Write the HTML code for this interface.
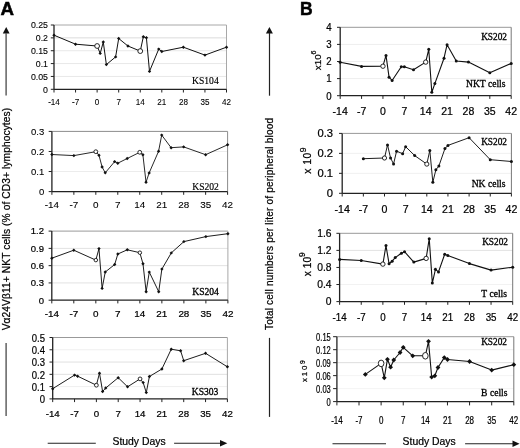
<!DOCTYPE html>
<html><head><meta charset="utf-8"><style>
html,body{margin:0;padding:0;background:#fff;width:520px;height:448px;overflow:hidden}
svg{display:block;filter:grayscale(1)}
.t{stroke:#000;stroke-width:0.22px}
.tl{stroke:#000;stroke-width:0.3px}
.pl{stroke:#000;stroke-width:0.5px}
.ta{stroke:#000;stroke-width:0.1px}
.tla{stroke:#000;stroke-width:0.15px}
</style></head><body>
<svg width="520" height="448" viewBox="0 0 520 448" font-family='"Liberation Sans", sans-serif' fill="#000">
<rect width="520" height="448" fill="#fff"/>
<text class="pl" transform="translate(0.5 14.9) scale(1.05 1)" font-size="17.8" font-weight="bold">A</text>
<text class="pl" x="300" y="14.8" font-size="17.5" font-weight="bold">B</text>
<path d="M6.2 26.9 L9.6 33.6 L2.8 33.6 Z" fill="#111"/>
<line x1="6.1" y1="33" x2="6.1" y2="95.4" stroke="#555" stroke-width="1.4"/>
<line x1="6.1" y1="342.9" x2="6.1" y2="416" stroke="#555" stroke-width="1.4"/>
<text class="t" transform="translate(9.7 330.3) rotate(-90)" font-size="10.2" textLength="222.5" lengthAdjust="spacing">V&#945;24V&#946;11+ NKT cells (% of CD3+ lymphocytes)</text>
<path d="M269.4 26.9 L272.9 33.6 L265.9 33.6 Z" fill="#111"/>
<line x1="269.5" y1="33" x2="269.5" y2="95.7" stroke="#222" stroke-width="1.2"/>
<line x1="269.5" y1="337.9" x2="269.5" y2="416.9" stroke="#222" stroke-width="1.2"/>
<text class="t" transform="translate(272.8 330) rotate(-90)" font-size="10" textLength="212" lengthAdjust="spacing">Total cell numbers per liter of peripheral blood</text>
<text class="t" transform="translate(320.6 70.3) rotate(-90)" font-size="9.9">x10<tspan font-size="7.2" dy="-4.6">6</tspan></text>
<text class="t" transform="translate(311.4 173.8) rotate(-90)" font-size="10.4" letter-spacing="0.5">x 10<tspan font-size="8.6" dy="-5.4">9</tspan></text>
<text class="t" transform="translate(310.6 276.2) rotate(-90)" font-size="10.2" letter-spacing="0">x 10<tspan font-size="8.4" dy="-5.2">9</tspan></text>
<text class="t" transform="translate(306.8 381.9) rotate(-90)" font-size="7.8" letter-spacing="1.8">x10<tspan font-size="6.8" dy="-2.3">9</tspan></text>
<line x1="47.7" y1="443.3" x2="95.8" y2="443.3" stroke="#222" stroke-width="1.1"/>
<text class="t" x="112.5" y="444.5" font-size="10.4">Study Days</text>
<line x1="174.1" y1="443.3" x2="221" y2="443.3" stroke="#222" stroke-width="1.1"/>
<path d="M227.3 443.2 L220 439.9 L220 446.6 Z" fill="#111"/>
<line x1="332.5" y1="443.7" x2="386" y2="443.7" stroke="#222" stroke-width="1.1"/>
<text class="t" x="402.6" y="445.2" font-size="10.4">Study Days</text>
<line x1="465.1" y1="443.7" x2="513" y2="443.7" stroke="#222" stroke-width="1.1"/>
<path d="M519.6 443.7 L512.5 440.4 L512.5 447 Z" fill="#111"/>
<line x1="54" y1="76.44" x2="226.5" y2="76.44" stroke="#e8e8e8" stroke-width="1"/>
<line x1="54" y1="63.58" x2="226.5" y2="63.58" stroke="#e8e8e8" stroke-width="1"/>
<line x1="54" y1="50.72" x2="226.5" y2="50.72" stroke="#e8e8e8" stroke-width="1"/>
<line x1="54" y1="37.86" x2="226.5" y2="37.86" stroke="#dcdcdc" stroke-width="1"/>
<line x1="54" y1="25" x2="226.5" y2="25" stroke="#a8a8a8" stroke-width="1"/>
<line x1="226.5" y1="25" x2="226.5" y2="89.3" stroke="#a8a8a8" stroke-width="1"/>
<line x1="54" y1="25" x2="54" y2="89.3" stroke="#222" stroke-width="1.3"/>
<line x1="54" y1="89.3" x2="226.5" y2="89.3" stroke="#222" stroke-width="1.3"/>
<line x1="50.8" y1="89.3" x2="54" y2="89.3" stroke="#222" stroke-width="1"/>
<text class="ta" x="48" y="92.5" font-size="8.8" text-anchor="end">0</text>
<line x1="50.8" y1="76.44" x2="54" y2="76.44" stroke="#222" stroke-width="1"/>
<text class="ta" x="48" y="79.64" font-size="8.8" text-anchor="end">0.05</text>
<line x1="50.8" y1="63.58" x2="54" y2="63.58" stroke="#222" stroke-width="1"/>
<text class="ta" x="48" y="66.78" font-size="8.8" text-anchor="end">0.1</text>
<line x1="50.8" y1="50.72" x2="54" y2="50.72" stroke="#222" stroke-width="1"/>
<text class="ta" x="48" y="53.92" font-size="8.8" text-anchor="end">0.15</text>
<line x1="50.8" y1="37.86" x2="54" y2="37.86" stroke="#222" stroke-width="1"/>
<text class="ta" x="48" y="41.06" font-size="8.8" text-anchor="end">0.2</text>
<line x1="50.8" y1="25" x2="54" y2="25" stroke="#222" stroke-width="1"/>
<text class="ta" x="48" y="28.2" font-size="8.8" text-anchor="end">0.25</text>
<line x1="54" y1="89.3" x2="54" y2="92.5" stroke="#222" stroke-width="1"/>
<text class="ta" transform="translate(54 105.4) scale(0.87 1)" font-size="9.3" text-anchor="middle">-14</text>
<line x1="75.56" y1="89.3" x2="75.56" y2="92.5" stroke="#222" stroke-width="1"/>
<text class="ta" transform="translate(75.56 105.4) scale(0.87 1)" font-size="9.3" text-anchor="middle">-7</text>
<line x1="97.12" y1="89.3" x2="97.12" y2="92.5" stroke="#222" stroke-width="1"/>
<text class="ta" transform="translate(97.12 105.4) scale(0.87 1)" font-size="9.3" text-anchor="middle">0</text>
<line x1="118.69" y1="89.3" x2="118.69" y2="92.5" stroke="#222" stroke-width="1"/>
<text class="ta" transform="translate(118.69 105.4) scale(0.87 1)" font-size="9.3" text-anchor="middle">7</text>
<line x1="140.25" y1="89.3" x2="140.25" y2="92.5" stroke="#222" stroke-width="1"/>
<text class="ta" transform="translate(140.25 105.4) scale(0.87 1)" font-size="9.3" text-anchor="middle">14</text>
<line x1="161.81" y1="89.3" x2="161.81" y2="92.5" stroke="#222" stroke-width="1"/>
<text class="ta" transform="translate(161.81 105.4) scale(0.87 1)" font-size="9.3" text-anchor="middle">21</text>
<line x1="183.38" y1="89.3" x2="183.38" y2="92.5" stroke="#222" stroke-width="1"/>
<text class="ta" transform="translate(183.38 105.4) scale(0.87 1)" font-size="9.3" text-anchor="middle">28</text>
<line x1="204.94" y1="89.3" x2="204.94" y2="92.5" stroke="#222" stroke-width="1"/>
<text class="ta" transform="translate(204.94 105.4) scale(0.87 1)" font-size="9.3" text-anchor="middle">35</text>
<line x1="226.5" y1="89.3" x2="226.5" y2="92.5" stroke="#222" stroke-width="1"/>
<text class="ta" transform="translate(226.5 105.4) scale(0.87 1)" font-size="9.3" text-anchor="middle">42</text>
<polyline fill="none" stroke="#111" stroke-width="1.0" stroke-linejoin="round" points="54,35.2 75.56,44.2 97.12,46 100.21,53.4 103.29,42 106.37,64.6 115.61,56.9 118.69,38.5 127.93,46 140.25,51.1 143.33,36.8 146.41,37.8 149.49,71.4 158.73,49.1 161.81,51.5 183.38,47.2 204.94,55.1 226.5,47.2"/>
<path d="M54 33.5l1.7 1.7l-1.7 1.7l-1.7 -1.7z" fill="#111"/>
<path d="M75.56 42.5l1.7 1.7l-1.7 1.7l-1.7 -1.7z" fill="#111"/>
<ellipse cx="97.12" cy="46" rx="2.4" ry="2.4" fill="#fff" stroke="#111" stroke-width="0.9"/>
<path d="M100.21 51.7l1.7 1.7l-1.7 1.7l-1.7 -1.7z" fill="#111"/>
<path d="M103.29 40.3l1.7 1.7l-1.7 1.7l-1.7 -1.7z" fill="#111"/>
<path d="M106.37 62.9l1.7 1.7l-1.7 1.7l-1.7 -1.7z" fill="#111"/>
<path d="M115.61 55.2l1.7 1.7l-1.7 1.7l-1.7 -1.7z" fill="#111"/>
<path d="M118.69 36.8l1.7 1.7l-1.7 1.7l-1.7 -1.7z" fill="#111"/>
<path d="M127.93 44.3l1.7 1.7l-1.7 1.7l-1.7 -1.7z" fill="#111"/>
<ellipse cx="140.25" cy="51.1" rx="2.4" ry="2.4" fill="#fff" stroke="#111" stroke-width="0.9"/>
<path d="M143.33 35.1l1.7 1.7l-1.7 1.7l-1.7 -1.7z" fill="#111"/>
<path d="M146.41 36.1l1.7 1.7l-1.7 1.7l-1.7 -1.7z" fill="#111"/>
<path d="M149.49 69.7l1.7 1.7l-1.7 1.7l-1.7 -1.7z" fill="#111"/>
<path d="M158.73 47.4l1.7 1.7l-1.7 1.7l-1.7 -1.7z" fill="#111"/>
<path d="M161.81 49.8l1.7 1.7l-1.7 1.7l-1.7 -1.7z" fill="#111"/>
<path d="M183.38 45.5l1.7 1.7l-1.7 1.7l-1.7 -1.7z" fill="#111"/>
<path d="M204.94 53.4l1.7 1.7l-1.7 1.7l-1.7 -1.7z" fill="#111"/>
<path d="M226.5 45.5l1.7 1.7l-1.7 1.7l-1.7 -1.7z" fill="#111"/>
<text class="tla" x="218.7" y="84.4" font-size="9.6" text-anchor="end" font-family='"Liberation Serif", serif'>KS104</text>
<line x1="51.9" y1="171.53" x2="227.6" y2="171.53" stroke="#ececec" stroke-width="1"/>
<line x1="51.9" y1="151.47" x2="227.6" y2="151.47" stroke="#ececec" stroke-width="1"/>
<line x1="51.9" y1="131.4" x2="227.6" y2="131.4" stroke="#8c8c8c" stroke-width="1"/>
<line x1="227.6" y1="131.4" x2="227.6" y2="191.6" stroke="#8c8c8c" stroke-width="1"/>
<line x1="51.9" y1="131.4" x2="51.9" y2="191.6" stroke="#222" stroke-width="1.3"/>
<line x1="51.9" y1="191.6" x2="227.6" y2="191.6" stroke="#222" stroke-width="1.3"/>
<line x1="48.7" y1="191.6" x2="51.9" y2="191.6" stroke="#222" stroke-width="1"/>
<text class="ta" x="44.2" y="194.8" font-size="9.5" text-anchor="end">0</text>
<line x1="48.7" y1="171.53" x2="51.9" y2="171.53" stroke="#222" stroke-width="1"/>
<text class="ta" x="44.2" y="174.73" font-size="9.5" text-anchor="end">0.1</text>
<line x1="48.7" y1="151.47" x2="51.9" y2="151.47" stroke="#222" stroke-width="1"/>
<text class="ta" x="44.2" y="154.67" font-size="9.5" text-anchor="end">0.2</text>
<line x1="48.7" y1="131.4" x2="51.9" y2="131.4" stroke="#222" stroke-width="1"/>
<text class="ta" x="44.2" y="134.6" font-size="9.5" text-anchor="end">0.3</text>
<line x1="51.9" y1="191.6" x2="51.9" y2="194.8" stroke="#222" stroke-width="1"/>
<text class="ta" x="51.9" y="208.3" font-size="9.9" text-anchor="middle">-14</text>
<line x1="73.86" y1="191.6" x2="73.86" y2="194.8" stroke="#222" stroke-width="1"/>
<text class="ta" x="73.86" y="208.3" font-size="9.9" text-anchor="middle">-7</text>
<line x1="95.82" y1="191.6" x2="95.82" y2="194.8" stroke="#222" stroke-width="1"/>
<text class="ta" x="95.82" y="208.3" font-size="9.9" text-anchor="middle">0</text>
<line x1="117.79" y1="191.6" x2="117.79" y2="194.8" stroke="#222" stroke-width="1"/>
<text class="ta" x="117.79" y="208.3" font-size="9.9" text-anchor="middle">7</text>
<line x1="139.75" y1="191.6" x2="139.75" y2="194.8" stroke="#222" stroke-width="1"/>
<text class="ta" x="139.75" y="208.3" font-size="9.9" text-anchor="middle">14</text>
<line x1="161.71" y1="191.6" x2="161.71" y2="194.8" stroke="#222" stroke-width="1"/>
<text class="ta" x="161.71" y="208.3" font-size="9.9" text-anchor="middle">21</text>
<line x1="183.68" y1="191.6" x2="183.68" y2="194.8" stroke="#222" stroke-width="1"/>
<text class="ta" x="183.68" y="208.3" font-size="9.9" text-anchor="middle">28</text>
<line x1="205.64" y1="191.6" x2="205.64" y2="194.8" stroke="#222" stroke-width="1"/>
<text class="ta" x="205.64" y="208.3" font-size="9.9" text-anchor="middle">35</text>
<line x1="227.6" y1="191.6" x2="227.6" y2="194.8" stroke="#222" stroke-width="1"/>
<text class="ta" x="227.6" y="208.3" font-size="9.9" text-anchor="middle">42</text>
<polyline fill="none" stroke="#111" stroke-width="0.9" stroke-linejoin="round" points="51.9,154.5 73.86,155.6 95.82,151.7 98.96,155.2 102.1,167 105.24,172.8 114.65,161.6 117.79,163.2 127.2,158.5 139.75,152.3 142.89,154.7 146.03,182.2 149.16,172.9 158.57,151.3 161.71,135.1 171.12,147.7 183.68,146.9 205.64,154.7 227.6,144.8"/>
<path d="M51.9 152.8l1.7 1.7l-1.7 1.7l-1.7 -1.7z" fill="#111"/>
<path d="M73.86 153.9l1.7 1.7l-1.7 1.7l-1.7 -1.7z" fill="#111"/>
<ellipse cx="95.82" cy="151.7" rx="1.9" ry="1.9" fill="#fff" stroke="#111" stroke-width="0.9"/>
<path d="M98.96 153.5l1.7 1.7l-1.7 1.7l-1.7 -1.7z" fill="#111"/>
<path d="M102.1 165.3l1.7 1.7l-1.7 1.7l-1.7 -1.7z" fill="#111"/>
<path d="M105.24 171.1l1.7 1.7l-1.7 1.7l-1.7 -1.7z" fill="#111"/>
<path d="M114.65 159.9l1.7 1.7l-1.7 1.7l-1.7 -1.7z" fill="#111"/>
<path d="M117.79 161.5l1.7 1.7l-1.7 1.7l-1.7 -1.7z" fill="#111"/>
<path d="M127.2 156.8l1.7 1.7l-1.7 1.7l-1.7 -1.7z" fill="#111"/>
<ellipse cx="139.75" cy="152.3" rx="1.9" ry="1.9" fill="#fff" stroke="#111" stroke-width="0.9"/>
<path d="M142.89 153l1.7 1.7l-1.7 1.7l-1.7 -1.7z" fill="#111"/>
<path d="M146.03 180.5l1.7 1.7l-1.7 1.7l-1.7 -1.7z" fill="#111"/>
<path d="M149.16 171.2l1.7 1.7l-1.7 1.7l-1.7 -1.7z" fill="#111"/>
<path d="M158.57 149.6l1.7 1.7l-1.7 1.7l-1.7 -1.7z" fill="#111"/>
<path d="M161.71 133.4l1.7 1.7l-1.7 1.7l-1.7 -1.7z" fill="#111"/>
<path d="M171.12 146l1.7 1.7l-1.7 1.7l-1.7 -1.7z" fill="#111"/>
<path d="M183.68 145.2l1.7 1.7l-1.7 1.7l-1.7 -1.7z" fill="#111"/>
<path d="M205.64 153l1.7 1.7l-1.7 1.7l-1.7 -1.7z" fill="#111"/>
<path d="M227.6 143.1l1.7 1.7l-1.7 1.7l-1.7 -1.7z" fill="#111"/>
<text class="tla" x="218.9" y="189.7" font-size="9.6" text-anchor="end" font-family='"Liberation Serif", serif'>KS202</text>
<line x1="51.8" y1="282.93" x2="227.9" y2="282.93" stroke="#e2e2e2" stroke-width="1"/>
<line x1="51.8" y1="265.65" x2="227.9" y2="265.65" stroke="#e2e2e2" stroke-width="1"/>
<line x1="51.8" y1="248.38" x2="227.9" y2="248.38" stroke="#e2e2e2" stroke-width="1"/>
<line x1="51.8" y1="231.1" x2="227.9" y2="231.1" stroke="#999" stroke-width="1"/>
<line x1="227.9" y1="231.1" x2="227.9" y2="300.2" stroke="#a8a8a8" stroke-width="1"/>
<line x1="51.8" y1="231.1" x2="51.8" y2="300.2" stroke="#222" stroke-width="1.3"/>
<line x1="51.8" y1="300.2" x2="227.9" y2="300.2" stroke="#222" stroke-width="1.3"/>
<line x1="48.6" y1="300.2" x2="51.8" y2="300.2" stroke="#222" stroke-width="1"/>
<text class="t" x="44" y="303.5" font-size="9.5" text-anchor="end">0</text>
<line x1="48.6" y1="282.93" x2="51.8" y2="282.93" stroke="#222" stroke-width="1"/>
<text class="t" x="44" y="286.23" font-size="9.5" text-anchor="end">0.3</text>
<line x1="48.6" y1="265.65" x2="51.8" y2="265.65" stroke="#222" stroke-width="1"/>
<text class="t" x="44" y="268.95" font-size="9.5" text-anchor="end">0.6</text>
<line x1="48.6" y1="248.38" x2="51.8" y2="248.38" stroke="#222" stroke-width="1"/>
<text class="t" x="44" y="251.68" font-size="9.5" text-anchor="end">0.9</text>
<line x1="48.6" y1="231.1" x2="51.8" y2="231.1" stroke="#222" stroke-width="1"/>
<text class="t" x="44" y="234.4" font-size="9.5" text-anchor="end">1.2</text>
<line x1="51.8" y1="300.2" x2="51.8" y2="303.4" stroke="#222" stroke-width="1"/>
<text class="t" x="51.8" y="317.2" font-size="9.9" text-anchor="middle">-14</text>
<line x1="73.81" y1="300.2" x2="73.81" y2="303.4" stroke="#222" stroke-width="1"/>
<text class="t" x="73.81" y="317.2" font-size="9.9" text-anchor="middle">-7</text>
<line x1="95.83" y1="300.2" x2="95.83" y2="303.4" stroke="#222" stroke-width="1"/>
<text class="t" x="95.83" y="317.2" font-size="9.9" text-anchor="middle">0</text>
<line x1="117.84" y1="300.2" x2="117.84" y2="303.4" stroke="#222" stroke-width="1"/>
<text class="t" x="117.84" y="317.2" font-size="9.9" text-anchor="middle">7</text>
<line x1="139.85" y1="300.2" x2="139.85" y2="303.4" stroke="#222" stroke-width="1"/>
<text class="t" x="139.85" y="317.2" font-size="9.9" text-anchor="middle">14</text>
<line x1="161.86" y1="300.2" x2="161.86" y2="303.4" stroke="#222" stroke-width="1"/>
<text class="t" x="161.86" y="317.2" font-size="9.9" text-anchor="middle">21</text>
<line x1="183.88" y1="300.2" x2="183.88" y2="303.4" stroke="#222" stroke-width="1"/>
<text class="t" x="183.88" y="317.2" font-size="9.9" text-anchor="middle">28</text>
<line x1="205.89" y1="300.2" x2="205.89" y2="303.4" stroke="#222" stroke-width="1"/>
<text class="t" x="205.89" y="317.2" font-size="9.9" text-anchor="middle">35</text>
<line x1="227.9" y1="300.2" x2="227.9" y2="303.4" stroke="#222" stroke-width="1"/>
<text class="t" x="227.9" y="317.2" font-size="9.9" text-anchor="middle">42</text>
<polyline fill="none" stroke="#111" stroke-width="0.95" stroke-linejoin="round" points="51.8,258.2 73.81,250.2 95.83,260.1 98.97,248.6 102.11,288.4 105.26,272 114.69,264.5 117.84,254 127.27,249.8 139.85,252.7 142.99,263.8 146.14,291.7 149.28,272.1 158.72,291.7 161.86,269.1 171.3,252.9 183.88,241.6 205.89,236.6 227.9,233.7"/>
<path d="M51.8 256.5l1.7 1.7l-1.7 1.7l-1.7 -1.7z" fill="#111"/>
<path d="M73.81 248.5l1.7 1.7l-1.7 1.7l-1.7 -1.7z" fill="#111"/>
<ellipse cx="95.83" cy="260.1" rx="1.75" ry="1.75" fill="#fff" stroke="#111" stroke-width="0.9"/>
<path d="M98.97 246.9l1.7 1.7l-1.7 1.7l-1.7 -1.7z" fill="#111"/>
<path d="M102.11 286.7l1.7 1.7l-1.7 1.7l-1.7 -1.7z" fill="#111"/>
<path d="M105.26 270.3l1.7 1.7l-1.7 1.7l-1.7 -1.7z" fill="#111"/>
<path d="M114.69 262.8l1.7 1.7l-1.7 1.7l-1.7 -1.7z" fill="#111"/>
<path d="M117.84 252.3l1.7 1.7l-1.7 1.7l-1.7 -1.7z" fill="#111"/>
<path d="M127.27 248.1l1.7 1.7l-1.7 1.7l-1.7 -1.7z" fill="#111"/>
<ellipse cx="139.85" cy="252.7" rx="1.75" ry="1.75" fill="#fff" stroke="#111" stroke-width="0.9"/>
<path d="M142.99 262.1l1.7 1.7l-1.7 1.7l-1.7 -1.7z" fill="#111"/>
<path d="M146.14 290l1.7 1.7l-1.7 1.7l-1.7 -1.7z" fill="#111"/>
<path d="M149.28 270.4l1.7 1.7l-1.7 1.7l-1.7 -1.7z" fill="#111"/>
<path d="M158.72 290l1.7 1.7l-1.7 1.7l-1.7 -1.7z" fill="#111"/>
<path d="M161.86 267.4l1.7 1.7l-1.7 1.7l-1.7 -1.7z" fill="#111"/>
<path d="M171.3 251.2l1.7 1.7l-1.7 1.7l-1.7 -1.7z" fill="#111"/>
<path d="M183.88 239.9l1.7 1.7l-1.7 1.7l-1.7 -1.7z" fill="#111"/>
<path d="M205.89 234.9l1.7 1.7l-1.7 1.7l-1.7 -1.7z" fill="#111"/>
<path d="M227.9 232l1.7 1.7l-1.7 1.7l-1.7 -1.7z" fill="#111"/>
<text class="tl" x="218.9" y="295.3" font-size="9.6" text-anchor="end" font-family='"Liberation Serif", serif'>KS204</text>
<line x1="52.7" y1="386.62" x2="227.4" y2="386.62" stroke="#efefef" stroke-width="1"/>
<line x1="52.7" y1="374.34" x2="227.4" y2="374.34" stroke="#e0e0e0" stroke-width="1"/>
<line x1="52.7" y1="362.06" x2="227.4" y2="362.06" stroke="#e0e0e0" stroke-width="1"/>
<line x1="52.7" y1="349.78" x2="227.4" y2="349.78" stroke="#efefef" stroke-width="1"/>
<line x1="52.7" y1="337.5" x2="227.4" y2="337.5" stroke="#999" stroke-width="1"/>
<line x1="227.4" y1="337.5" x2="227.4" y2="398.9" stroke="#a8a8a8" stroke-width="1"/>
<line x1="52.7" y1="337.5" x2="52.7" y2="398.9" stroke="#222" stroke-width="1.3"/>
<line x1="52.7" y1="398.9" x2="227.4" y2="398.9" stroke="#222" stroke-width="1.3"/>
<line x1="49.5" y1="398.9" x2="52.7" y2="398.9" stroke="#222" stroke-width="1"/>
<text class="t" transform="translate(45 403.1) scale(0.88 1)" font-size="10.8" text-anchor="end">0</text>
<line x1="49.5" y1="386.62" x2="52.7" y2="386.62" stroke="#222" stroke-width="1"/>
<text class="t" transform="translate(45 390.82) scale(0.88 1)" font-size="10.8" text-anchor="end">0.1</text>
<line x1="49.5" y1="374.34" x2="52.7" y2="374.34" stroke="#222" stroke-width="1"/>
<text class="t" transform="translate(45 378.54) scale(0.88 1)" font-size="10.8" text-anchor="end">0.2</text>
<line x1="49.5" y1="362.06" x2="52.7" y2="362.06" stroke="#222" stroke-width="1"/>
<text class="t" transform="translate(45 366.26) scale(0.88 1)" font-size="10.8" text-anchor="end">0.3</text>
<line x1="49.5" y1="349.78" x2="52.7" y2="349.78" stroke="#222" stroke-width="1"/>
<text class="t" transform="translate(45 353.98) scale(0.88 1)" font-size="10.8" text-anchor="end">0.4</text>
<line x1="49.5" y1="337.5" x2="52.7" y2="337.5" stroke="#222" stroke-width="1"/>
<text class="t" transform="translate(45 341.7) scale(0.88 1)" font-size="10.8" text-anchor="end">0.5</text>
<line x1="52.7" y1="398.9" x2="52.7" y2="402.1" stroke="#222" stroke-width="1"/>
<text class="t" x="52.7" y="417.2" font-size="9.7" text-anchor="middle">-14</text>
<line x1="74.54" y1="398.9" x2="74.54" y2="402.1" stroke="#222" stroke-width="1"/>
<text class="t" x="74.54" y="417.2" font-size="9.7" text-anchor="middle">-7</text>
<line x1="96.38" y1="398.9" x2="96.38" y2="402.1" stroke="#222" stroke-width="1"/>
<text class="t" x="96.38" y="417.2" font-size="9.7" text-anchor="middle">0</text>
<line x1="118.21" y1="398.9" x2="118.21" y2="402.1" stroke="#222" stroke-width="1"/>
<text class="t" x="118.21" y="417.2" font-size="9.7" text-anchor="middle">7</text>
<line x1="140.05" y1="398.9" x2="140.05" y2="402.1" stroke="#222" stroke-width="1"/>
<text class="t" x="140.05" y="417.2" font-size="9.7" text-anchor="middle">14</text>
<line x1="161.89" y1="398.9" x2="161.89" y2="402.1" stroke="#222" stroke-width="1"/>
<text class="t" x="161.89" y="417.2" font-size="9.7" text-anchor="middle">21</text>
<line x1="183.73" y1="398.9" x2="183.73" y2="402.1" stroke="#222" stroke-width="1"/>
<text class="t" x="183.73" y="417.2" font-size="9.7" text-anchor="middle">28</text>
<line x1="205.56" y1="398.9" x2="205.56" y2="402.1" stroke="#222" stroke-width="1"/>
<text class="t" x="205.56" y="417.2" font-size="9.7" text-anchor="middle">35</text>
<line x1="227.4" y1="398.9" x2="227.4" y2="402.1" stroke="#222" stroke-width="1"/>
<text class="t" x="227.4" y="417.2" font-size="9.7" text-anchor="middle">42</text>
<polyline fill="none" stroke="#111" stroke-width="0.95" stroke-linejoin="round" points="52.7,388.7 74.54,375.1 77.66,376.2 96.38,385.2 99.49,373.2 102.61,391.5 105.73,388 118.21,377.7 127.57,386.8 140.05,378.9 143.17,382.6 146.29,392.6 149.41,376.5 161.89,369 171.25,349.2 180.61,350.8 183.73,360.7 205.56,353.3 227.4,366.8"/>
<path d="M52.7 387l1.7 1.7l-1.7 1.7l-1.7 -1.7z" fill="#111"/>
<path d="M74.54 373.4l1.7 1.7l-1.7 1.7l-1.7 -1.7z" fill="#111"/>
<path d="M77.66 374.5l1.7 1.7l-1.7 1.7l-1.7 -1.7z" fill="#111"/>
<ellipse cx="96.38" cy="385.2" rx="1.9" ry="1.9" fill="#fff" stroke="#111" stroke-width="0.9"/>
<path d="M99.49 371.5l1.7 1.7l-1.7 1.7l-1.7 -1.7z" fill="#111"/>
<path d="M102.61 389.8l1.7 1.7l-1.7 1.7l-1.7 -1.7z" fill="#111"/>
<path d="M105.73 386.3l1.7 1.7l-1.7 1.7l-1.7 -1.7z" fill="#111"/>
<path d="M118.21 376l1.7 1.7l-1.7 1.7l-1.7 -1.7z" fill="#111"/>
<path d="M127.57 385.1l1.7 1.7l-1.7 1.7l-1.7 -1.7z" fill="#111"/>
<ellipse cx="140.05" cy="378.9" rx="1.9" ry="1.9" fill="#fff" stroke="#111" stroke-width="0.9"/>
<path d="M143.17 380.9l1.7 1.7l-1.7 1.7l-1.7 -1.7z" fill="#111"/>
<path d="M146.29 390.9l1.7 1.7l-1.7 1.7l-1.7 -1.7z" fill="#111"/>
<path d="M149.41 374.8l1.7 1.7l-1.7 1.7l-1.7 -1.7z" fill="#111"/>
<path d="M161.89 367.3l1.7 1.7l-1.7 1.7l-1.7 -1.7z" fill="#111"/>
<path d="M171.25 347.5l1.7 1.7l-1.7 1.7l-1.7 -1.7z" fill="#111"/>
<path d="M180.61 349.1l1.7 1.7l-1.7 1.7l-1.7 -1.7z" fill="#111"/>
<path d="M183.73 359l1.7 1.7l-1.7 1.7l-1.7 -1.7z" fill="#111"/>
<path d="M205.56 351.6l1.7 1.7l-1.7 1.7l-1.7 -1.7z" fill="#111"/>
<path d="M227.4 365.1l1.7 1.7l-1.7 1.7l-1.7 -1.7z" fill="#111"/>
<text class="tl" x="218.4" y="395.3" font-size="9.6" text-anchor="end" font-family='"Liberation Serif", serif'>KS303</text>
<line x1="340.2" y1="78.6" x2="511.2" y2="78.6" stroke="#eeeeee" stroke-width="1"/>
<line x1="340.2" y1="61.5" x2="511.2" y2="61.5" stroke="#eeeeee" stroke-width="1"/>
<line x1="340.2" y1="44.4" x2="511.2" y2="44.4" stroke="#eeeeee" stroke-width="1"/>
<line x1="340.2" y1="27.3" x2="511.2" y2="27.3" stroke="#999" stroke-width="1"/>
<line x1="511.2" y1="27.3" x2="511.2" y2="95.7" stroke="#777" stroke-width="1"/>
<line x1="340.2" y1="27.3" x2="340.2" y2="95.7" stroke="#222" stroke-width="1.3"/>
<line x1="340.2" y1="95.7" x2="511.2" y2="95.7" stroke="#222" stroke-width="1.3"/>
<line x1="337" y1="95.7" x2="340.2" y2="95.7" stroke="#222" stroke-width="1"/>
<text class="t" transform="translate(331.6 99.5) scale(0.92 1)" font-size="10.5" text-anchor="end">0</text>
<line x1="337" y1="78.6" x2="340.2" y2="78.6" stroke="#222" stroke-width="1"/>
<text class="t" transform="translate(331.6 82.4) scale(0.92 1)" font-size="10.5" text-anchor="end">1</text>
<line x1="337" y1="61.5" x2="340.2" y2="61.5" stroke="#222" stroke-width="1"/>
<text class="t" transform="translate(331.6 65.3) scale(0.92 1)" font-size="10.5" text-anchor="end">2</text>
<line x1="337" y1="44.4" x2="340.2" y2="44.4" stroke="#222" stroke-width="1"/>
<text class="t" transform="translate(331.6 48.2) scale(0.92 1)" font-size="10.5" text-anchor="end">3</text>
<line x1="337" y1="27.3" x2="340.2" y2="27.3" stroke="#222" stroke-width="1"/>
<text class="t" transform="translate(331.6 31.1) scale(0.92 1)" font-size="10.5" text-anchor="end">4</text>
<line x1="340.2" y1="95.7" x2="340.2" y2="98.9" stroke="#222" stroke-width="1"/>
<text class="t" x="340.2" y="115.3" font-size="10.5" text-anchor="middle">-14</text>
<line x1="361.57" y1="95.7" x2="361.57" y2="98.9" stroke="#222" stroke-width="1"/>
<text class="t" x="361.57" y="115.3" font-size="10.5" text-anchor="middle">-7</text>
<line x1="382.95" y1="95.7" x2="382.95" y2="98.9" stroke="#222" stroke-width="1"/>
<text class="t" x="382.95" y="115.3" font-size="10.5" text-anchor="middle">0</text>
<line x1="404.32" y1="95.7" x2="404.32" y2="98.9" stroke="#222" stroke-width="1"/>
<text class="t" x="404.32" y="115.3" font-size="10.5" text-anchor="middle">7</text>
<line x1="425.7" y1="95.7" x2="425.7" y2="98.9" stroke="#222" stroke-width="1"/>
<text class="t" x="425.7" y="115.3" font-size="10.5" text-anchor="middle">14</text>
<line x1="447.07" y1="95.7" x2="447.07" y2="98.9" stroke="#222" stroke-width="1"/>
<text class="t" x="447.07" y="115.3" font-size="10.5" text-anchor="middle">21</text>
<line x1="468.45" y1="95.7" x2="468.45" y2="98.9" stroke="#222" stroke-width="1"/>
<text class="t" x="468.45" y="115.3" font-size="10.5" text-anchor="middle">28</text>
<line x1="489.82" y1="95.7" x2="489.82" y2="98.9" stroke="#222" stroke-width="1"/>
<text class="t" x="489.82" y="115.3" font-size="10.5" text-anchor="middle">35</text>
<line x1="511.2" y1="95.7" x2="511.2" y2="98.9" stroke="#222" stroke-width="1"/>
<text class="t" x="511.2" y="115.3" font-size="10.5" text-anchor="middle">42</text>
<polyline fill="none" stroke="#111" stroke-width="1.1" stroke-linejoin="round" points="340.2,62.2 361.57,66.4 382.95,66.2 386,55.4 389.06,77.2 392.11,80.5 401.27,66.7 404.32,66.7 413.49,69.8 425.7,62.1 428.75,49.3 431.81,92.2 434.86,83.6 444.02,58.2 447.07,44.7 456.24,61 468.45,62.1 489.82,72.7 511.2,63.4"/>
<circle cx="340.2" cy="62.2" r="1.5" fill="#111"/>
<circle cx="361.57" cy="66.4" r="1.5" fill="#111"/>
<ellipse cx="382.95" cy="66.2" rx="2.2" ry="2.2" fill="#fff" stroke="#111" stroke-width="0.9"/>
<circle cx="386" cy="55.4" r="1.5" fill="#111"/>
<circle cx="389.06" cy="77.2" r="1.5" fill="#111"/>
<circle cx="392.11" cy="80.5" r="1.5" fill="#111"/>
<circle cx="401.27" cy="66.7" r="1.5" fill="#111"/>
<circle cx="404.32" cy="66.7" r="1.5" fill="#111"/>
<circle cx="413.49" cy="69.8" r="1.5" fill="#111"/>
<ellipse cx="425.7" cy="62.1" rx="2.2" ry="2.2" fill="#fff" stroke="#111" stroke-width="0.9"/>
<circle cx="428.75" cy="49.3" r="1.5" fill="#111"/>
<circle cx="431.81" cy="92.2" r="1.5" fill="#111"/>
<circle cx="434.86" cy="83.6" r="1.5" fill="#111"/>
<circle cx="444.02" cy="58.2" r="1.5" fill="#111"/>
<circle cx="447.07" cy="44.7" r="1.5" fill="#111"/>
<circle cx="456.24" cy="61" r="1.5" fill="#111"/>
<circle cx="468.45" cy="62.1" r="1.5" fill="#111"/>
<circle cx="489.82" cy="72.7" r="1.5" fill="#111"/>
<circle cx="511.2" cy="63.4" r="1.5" fill="#111"/>
<text class="tl" x="507" y="40" font-size="9.3" text-anchor="end" font-family='"Liberation Serif", serif'>KS202</text>
<text class="tl" x="505.5" y="87" font-size="9.6" text-anchor="end" font-family='"Liberation Serif", serif'>NKT cells</text>
<line x1="342.2" y1="173.33" x2="511.4" y2="173.33" stroke="#f0f0f0" stroke-width="1"/>
<line x1="342.2" y1="153.37" x2="511.4" y2="153.37" stroke="#f0f0f0" stroke-width="1"/>
<line x1="342.2" y1="133.4" x2="511.4" y2="133.4" stroke="#999" stroke-width="1"/>
<line x1="511.4" y1="133.4" x2="511.4" y2="193.3" stroke="#777" stroke-width="1"/>
<line x1="342.2" y1="133.4" x2="342.2" y2="193.3" stroke="#222" stroke-width="1.3"/>
<line x1="342.2" y1="193.3" x2="511.4" y2="193.3" stroke="#222" stroke-width="1.3"/>
<line x1="339" y1="193.3" x2="342.2" y2="193.3" stroke="#222" stroke-width="1"/>
<text class="t" x="333.1" y="197.2" font-size="11.2" text-anchor="end">0</text>
<line x1="339" y1="173.33" x2="342.2" y2="173.33" stroke="#222" stroke-width="1"/>
<text class="t" x="333.1" y="177.23" font-size="11.2" text-anchor="end">0.1</text>
<line x1="339" y1="153.37" x2="342.2" y2="153.37" stroke="#222" stroke-width="1"/>
<text class="t" x="333.1" y="157.27" font-size="11.2" text-anchor="end">0.2</text>
<line x1="339" y1="133.4" x2="342.2" y2="133.4" stroke="#222" stroke-width="1"/>
<text class="t" x="333.1" y="137.3" font-size="11.2" text-anchor="end">0.3</text>
<line x1="342.2" y1="193.3" x2="342.2" y2="196.5" stroke="#222" stroke-width="1"/>
<text class="t" x="342.2" y="213.4" font-size="10.6" text-anchor="middle">-14</text>
<line x1="363.35" y1="193.3" x2="363.35" y2="196.5" stroke="#222" stroke-width="1"/>
<text class="t" x="363.35" y="213.4" font-size="10.6" text-anchor="middle">-7</text>
<line x1="384.5" y1="193.3" x2="384.5" y2="196.5" stroke="#222" stroke-width="1"/>
<text class="t" x="384.5" y="213.4" font-size="10.6" text-anchor="middle">0</text>
<line x1="405.65" y1="193.3" x2="405.65" y2="196.5" stroke="#222" stroke-width="1"/>
<text class="t" x="405.65" y="213.4" font-size="10.6" text-anchor="middle">7</text>
<line x1="426.8" y1="193.3" x2="426.8" y2="196.5" stroke="#222" stroke-width="1"/>
<text class="t" x="426.8" y="213.4" font-size="10.6" text-anchor="middle">14</text>
<line x1="447.95" y1="193.3" x2="447.95" y2="196.5" stroke="#222" stroke-width="1"/>
<text class="t" x="447.95" y="213.4" font-size="10.6" text-anchor="middle">21</text>
<line x1="469.1" y1="193.3" x2="469.1" y2="196.5" stroke="#222" stroke-width="1"/>
<text class="t" x="469.1" y="213.4" font-size="10.6" text-anchor="middle">28</text>
<line x1="490.25" y1="193.3" x2="490.25" y2="196.5" stroke="#222" stroke-width="1"/>
<text class="t" x="490.25" y="213.4" font-size="10.6" text-anchor="middle">35</text>
<line x1="511.4" y1="193.3" x2="511.4" y2="196.5" stroke="#222" stroke-width="1"/>
<text class="t" x="511.4" y="213.4" font-size="10.6" text-anchor="middle">42</text>
<polyline fill="none" stroke="#111" stroke-width="0.95" stroke-linejoin="round" points="363.35,158.7 384.5,158 387.52,144.9 390.54,157.9 393.56,164 396.59,151.2 402.63,153.7 405.65,146.7 414.71,155.6 426.8,164.1 429.82,150.4 432.84,182.3 435.86,169.8 438.89,166 444.93,148.6 447.95,145.4 469.1,137.7 490.25,159.7 511.4,161.5"/>
<circle cx="363.35" cy="158.7" r="1.5" fill="#111"/>
<ellipse cx="384.5" cy="158" rx="2.1" ry="2.1" fill="#fff" stroke="#111" stroke-width="0.9"/>
<circle cx="387.52" cy="144.9" r="1.5" fill="#111"/>
<circle cx="390.54" cy="157.9" r="1.5" fill="#111"/>
<circle cx="393.56" cy="164" r="1.5" fill="#111"/>
<circle cx="396.59" cy="151.2" r="1.5" fill="#111"/>
<circle cx="402.63" cy="153.7" r="1.5" fill="#111"/>
<circle cx="405.65" cy="146.7" r="1.5" fill="#111"/>
<circle cx="414.71" cy="155.6" r="1.5" fill="#111"/>
<ellipse cx="426.8" cy="164.1" rx="2.1" ry="2.1" fill="#fff" stroke="#111" stroke-width="0.9"/>
<circle cx="429.82" cy="150.4" r="1.5" fill="#111"/>
<circle cx="432.84" cy="182.3" r="1.5" fill="#111"/>
<circle cx="435.86" cy="169.8" r="1.5" fill="#111"/>
<circle cx="438.89" cy="166" r="1.5" fill="#111"/>
<circle cx="444.93" cy="148.6" r="1.5" fill="#111"/>
<circle cx="447.95" cy="145.4" r="1.5" fill="#111"/>
<circle cx="469.1" cy="137.7" r="1.5" fill="#111"/>
<circle cx="490.25" cy="159.7" r="1.5" fill="#111"/>
<circle cx="511.4" cy="161.5" r="1.5" fill="#111"/>
<text class="tl" x="507" y="144.7" font-size="9.3" text-anchor="end" font-family='"Liberation Serif", serif'>KS202</text>
<text class="tl" x="505.5" y="187" font-size="9.6" text-anchor="end" font-family='"Liberation Serif", serif'>NK cells</text>
<line x1="339.6" y1="284.53" x2="512.7" y2="284.53" stroke="#f2f2f2" stroke-width="1"/>
<line x1="339.6" y1="267.45" x2="512.7" y2="267.45" stroke="#f2f2f2" stroke-width="1"/>
<line x1="339.6" y1="250.38" x2="512.7" y2="250.38" stroke="#e2e2e2" stroke-width="1"/>
<line x1="339.6" y1="233.3" x2="512.7" y2="233.3" stroke="#999" stroke-width="1"/>
<line x1="512.7" y1="233.3" x2="512.7" y2="301.6" stroke="#777" stroke-width="1"/>
<line x1="339.6" y1="233.3" x2="339.6" y2="301.6" stroke="#222" stroke-width="1.3"/>
<line x1="339.6" y1="301.6" x2="512.7" y2="301.6" stroke="#222" stroke-width="1.3"/>
<line x1="336.4" y1="301.6" x2="339.6" y2="301.6" stroke="#222" stroke-width="1"/>
<text class="t" x="331.5" y="305.4" font-size="10.3" text-anchor="end">0</text>
<line x1="336.4" y1="284.53" x2="339.6" y2="284.53" stroke="#222" stroke-width="1"/>
<text class="t" x="331.5" y="288.33" font-size="10.3" text-anchor="end">0.4</text>
<line x1="336.4" y1="267.45" x2="339.6" y2="267.45" stroke="#222" stroke-width="1"/>
<text class="t" x="331.5" y="271.25" font-size="10.3" text-anchor="end">0.8</text>
<line x1="336.4" y1="250.38" x2="339.6" y2="250.38" stroke="#222" stroke-width="1"/>
<text class="t" x="331.5" y="254.18" font-size="10.3" text-anchor="end">1.2</text>
<line x1="336.4" y1="233.3" x2="339.6" y2="233.3" stroke="#222" stroke-width="1"/>
<text class="t" x="331.5" y="237.1" font-size="10.3" text-anchor="end">1.6</text>
<line x1="339.6" y1="301.6" x2="339.6" y2="304.8" stroke="#222" stroke-width="1"/>
<text class="t" transform="translate(339.6 321.2) scale(0.95 1)" font-size="10.3" text-anchor="middle">-14</text>
<line x1="361.24" y1="301.6" x2="361.24" y2="304.8" stroke="#222" stroke-width="1"/>
<text class="t" transform="translate(361.24 321.2) scale(0.95 1)" font-size="10.3" text-anchor="middle">-7</text>
<line x1="382.88" y1="301.6" x2="382.88" y2="304.8" stroke="#222" stroke-width="1"/>
<text class="t" transform="translate(382.88 321.2) scale(0.95 1)" font-size="10.3" text-anchor="middle">0</text>
<line x1="404.51" y1="301.6" x2="404.51" y2="304.8" stroke="#222" stroke-width="1"/>
<text class="t" transform="translate(404.51 321.2) scale(0.95 1)" font-size="10.3" text-anchor="middle">7</text>
<line x1="426.15" y1="301.6" x2="426.15" y2="304.8" stroke="#222" stroke-width="1"/>
<text class="t" transform="translate(426.15 321.2) scale(0.95 1)" font-size="10.3" text-anchor="middle">14</text>
<line x1="447.79" y1="301.6" x2="447.79" y2="304.8" stroke="#222" stroke-width="1"/>
<text class="t" transform="translate(447.79 321.2) scale(0.95 1)" font-size="10.3" text-anchor="middle">21</text>
<line x1="469.43" y1="301.6" x2="469.43" y2="304.8" stroke="#222" stroke-width="1"/>
<text class="t" transform="translate(469.43 321.2) scale(0.95 1)" font-size="10.3" text-anchor="middle">28</text>
<line x1="491.06" y1="301.6" x2="491.06" y2="304.8" stroke="#222" stroke-width="1"/>
<text class="t" transform="translate(491.06 321.2) scale(0.95 1)" font-size="10.3" text-anchor="middle">35</text>
<line x1="512.7" y1="301.6" x2="512.7" y2="304.8" stroke="#222" stroke-width="1"/>
<text class="t" transform="translate(512.7 321.2) scale(0.95 1)" font-size="10.3" text-anchor="middle">42</text>
<polyline fill="none" stroke="#111" stroke-width="1.1" stroke-linejoin="round" points="339.6,259.4 361.24,260.5 382.88,264.1 385.97,245.6 389.06,263.7 392.15,261.2 395.24,257.6 401.42,253.2 404.51,251.7 413.79,262.1 426.15,258.4 429.24,238.7 432.33,283.1 435.42,269.3 438.51,271.9 444.7,254.3 447.79,255.6 469.43,263.6 491.06,270.1 512.7,267.2"/>
<circle cx="339.6" cy="259.4" r="1.5" fill="#111"/>
<circle cx="361.24" cy="260.5" r="1.5" fill="#111"/>
<ellipse cx="382.88" cy="264.1" rx="2.2" ry="2.2" fill="#fff" stroke="#111" stroke-width="0.9"/>
<circle cx="385.97" cy="245.6" r="1.5" fill="#111"/>
<circle cx="389.06" cy="263.7" r="1.5" fill="#111"/>
<circle cx="392.15" cy="261.2" r="1.5" fill="#111"/>
<circle cx="395.24" cy="257.6" r="1.5" fill="#111"/>
<circle cx="401.42" cy="253.2" r="1.5" fill="#111"/>
<circle cx="404.51" cy="251.7" r="1.5" fill="#111"/>
<circle cx="413.79" cy="262.1" r="1.5" fill="#111"/>
<ellipse cx="426.15" cy="258.4" rx="2.2" ry="2.2" fill="#fff" stroke="#111" stroke-width="0.9"/>
<circle cx="429.24" cy="238.7" r="1.5" fill="#111"/>
<circle cx="432.33" cy="283.1" r="1.5" fill="#111"/>
<circle cx="435.42" cy="269.3" r="1.5" fill="#111"/>
<circle cx="438.51" cy="271.9" r="1.5" fill="#111"/>
<circle cx="444.7" cy="254.3" r="1.5" fill="#111"/>
<circle cx="447.79" cy="255.6" r="1.5" fill="#111"/>
<circle cx="469.43" cy="263.6" r="1.5" fill="#111"/>
<circle cx="491.06" cy="270.1" r="1.5" fill="#111"/>
<circle cx="512.7" cy="267.2" r="1.5" fill="#111"/>
<text class="tl" x="508" y="245.2" font-size="9.3" text-anchor="end" font-family='"Liberation Serif", serif'>KS202</text>
<text class="tl" x="507" y="297.4" font-size="9.6" text-anchor="end" font-family='"Liberation Serif", serif'>T cells</text>
<line x1="336.9" y1="388.62" x2="513.8" y2="388.62" stroke="#f4f4f4" stroke-width="1"/>
<line x1="336.9" y1="375.64" x2="513.8" y2="375.64" stroke="#f4f4f4" stroke-width="1"/>
<line x1="336.9" y1="362.66" x2="513.8" y2="362.66" stroke="#dddddd" stroke-width="1"/>
<line x1="336.9" y1="349.68" x2="513.8" y2="349.68" stroke="#eeeeee" stroke-width="1"/>
<line x1="336.9" y1="336.7" x2="513.8" y2="336.7" stroke="#999" stroke-width="1"/>
<line x1="513.8" y1="336.7" x2="513.8" y2="401.6" stroke="#777" stroke-width="1"/>
<line x1="336.9" y1="336.7" x2="336.9" y2="401.6" stroke="#222" stroke-width="1.3"/>
<line x1="336.9" y1="401.6" x2="513.8" y2="401.6" stroke="#222" stroke-width="1.3"/>
<line x1="333.1" y1="401.6" x2="336.9" y2="401.6" stroke="#222" stroke-width="1"/>
<text class="t" transform="translate(330.8 405.6) scale(0.7 1)" font-size="10.8" text-anchor="end">0</text>
<line x1="333.1" y1="388.62" x2="336.9" y2="388.62" stroke="#222" stroke-width="1"/>
<text class="t" transform="translate(330.8 392.62) scale(0.7 1)" font-size="10.8" text-anchor="end">0.03</text>
<line x1="333.1" y1="375.64" x2="336.9" y2="375.64" stroke="#222" stroke-width="1"/>
<text class="t" transform="translate(330.8 379.64) scale(0.7 1)" font-size="10.8" text-anchor="end">0.06</text>
<line x1="333.1" y1="362.66" x2="336.9" y2="362.66" stroke="#222" stroke-width="1"/>
<text class="t" transform="translate(330.8 366.66) scale(0.7 1)" font-size="10.8" text-anchor="end">0.09</text>
<line x1="333.1" y1="349.68" x2="336.9" y2="349.68" stroke="#222" stroke-width="1"/>
<text class="t" transform="translate(330.8 353.68) scale(0.7 1)" font-size="10.8" text-anchor="end">0.12</text>
<line x1="333.1" y1="336.7" x2="336.9" y2="336.7" stroke="#222" stroke-width="1"/>
<text class="t" transform="translate(330.8 340.7) scale(0.7 1)" font-size="10.8" text-anchor="end">0.15</text>
<line x1="336.9" y1="401.6" x2="336.9" y2="405.4" stroke="#222" stroke-width="1"/>
<text class="t" transform="translate(336.9 424) scale(0.8 1)" font-size="10" text-anchor="middle">-14</text>
<line x1="359.01" y1="401.6" x2="359.01" y2="405.4" stroke="#222" stroke-width="1"/>
<text class="t" transform="translate(359.01 424) scale(0.8 1)" font-size="10" text-anchor="middle">-7</text>
<line x1="381.12" y1="401.6" x2="381.12" y2="405.4" stroke="#222" stroke-width="1"/>
<text class="t" transform="translate(381.12 424) scale(0.8 1)" font-size="10" text-anchor="middle">0</text>
<line x1="403.24" y1="401.6" x2="403.24" y2="405.4" stroke="#222" stroke-width="1"/>
<text class="t" transform="translate(403.24 424) scale(0.8 1)" font-size="10" text-anchor="middle">7</text>
<line x1="425.35" y1="401.6" x2="425.35" y2="405.4" stroke="#222" stroke-width="1"/>
<text class="t" transform="translate(425.35 424) scale(0.8 1)" font-size="10" text-anchor="middle">14</text>
<line x1="447.46" y1="401.6" x2="447.46" y2="405.4" stroke="#222" stroke-width="1"/>
<text class="t" transform="translate(447.46 424) scale(0.8 1)" font-size="10" text-anchor="middle">21</text>
<line x1="469.57" y1="401.6" x2="469.57" y2="405.4" stroke="#222" stroke-width="1"/>
<text class="t" transform="translate(469.57 424) scale(0.8 1)" font-size="10" text-anchor="middle">28</text>
<line x1="491.69" y1="401.6" x2="491.69" y2="405.4" stroke="#222" stroke-width="1"/>
<text class="t" transform="translate(491.69 424) scale(0.8 1)" font-size="10" text-anchor="middle">35</text>
<line x1="513.8" y1="401.6" x2="513.8" y2="405.4" stroke="#222" stroke-width="1"/>
<text class="t" transform="translate(513.8 424) scale(0.8 1)" font-size="10" text-anchor="middle">42</text>
<polyline fill="none" stroke="#111" stroke-width="1.1" stroke-linejoin="round" points="365.33,374.4 381.12,363.4 384.28,377.8 387.44,359.3 390.6,367.2 393.76,360 400.08,352.5 403.24,347.3 412.71,355.8 425.35,355.8 428.51,341.3 431.67,377.1 434.83,375.8 437.99,367.5 444.3,357.6 447.46,359.5 469.57,361.5 491.69,370.1 513.8,364.7"/>
<path d="M365.33 372l2.4 2.4l-2.4 2.4l-2.4 -2.4z" fill="#111"/>
<ellipse cx="381.12" cy="363.4" rx="2.8" ry="3.3" fill="#fff" stroke="#111" stroke-width="0.9"/>
<path d="M384.28 375.4l2.4 2.4l-2.4 2.4l-2.4 -2.4z" fill="#111"/>
<path d="M387.44 356.9l2.4 2.4l-2.4 2.4l-2.4 -2.4z" fill="#111"/>
<path d="M390.6 364.8l2.4 2.4l-2.4 2.4l-2.4 -2.4z" fill="#111"/>
<path d="M393.76 357.6l2.4 2.4l-2.4 2.4l-2.4 -2.4z" fill="#111"/>
<path d="M400.08 350.1l2.4 2.4l-2.4 2.4l-2.4 -2.4z" fill="#111"/>
<path d="M403.24 344.9l2.4 2.4l-2.4 2.4l-2.4 -2.4z" fill="#111"/>
<path d="M412.71 353.4l2.4 2.4l-2.4 2.4l-2.4 -2.4z" fill="#111"/>
<ellipse cx="425.35" cy="355.8" rx="2.8" ry="3.3" fill="#fff" stroke="#111" stroke-width="0.9"/>
<path d="M428.51 338.9l2.4 2.4l-2.4 2.4l-2.4 -2.4z" fill="#111"/>
<path d="M431.67 374.7l2.4 2.4l-2.4 2.4l-2.4 -2.4z" fill="#111"/>
<path d="M434.83 373.4l2.4 2.4l-2.4 2.4l-2.4 -2.4z" fill="#111"/>
<path d="M437.99 365.1l2.4 2.4l-2.4 2.4l-2.4 -2.4z" fill="#111"/>
<path d="M444.3 355.2l2.4 2.4l-2.4 2.4l-2.4 -2.4z" fill="#111"/>
<path d="M447.46 357.1l2.4 2.4l-2.4 2.4l-2.4 -2.4z" fill="#111"/>
<path d="M469.57 359.1l2.4 2.4l-2.4 2.4l-2.4 -2.4z" fill="#111"/>
<path d="M491.69 367.7l2.4 2.4l-2.4 2.4l-2.4 -2.4z" fill="#111"/>
<path d="M513.8 362.3l2.4 2.4l-2.4 2.4l-2.4 -2.4z" fill="#111"/>
<text class="tl" x="507" y="345.4" font-size="9.3" text-anchor="end" font-family='"Liberation Serif", serif'>KS202</text>
<text class="tl" x="507.5" y="395.8" font-size="9.6" text-anchor="end" font-family='"Liberation Serif", serif'>B cells</text>
</svg>
</body></html>
